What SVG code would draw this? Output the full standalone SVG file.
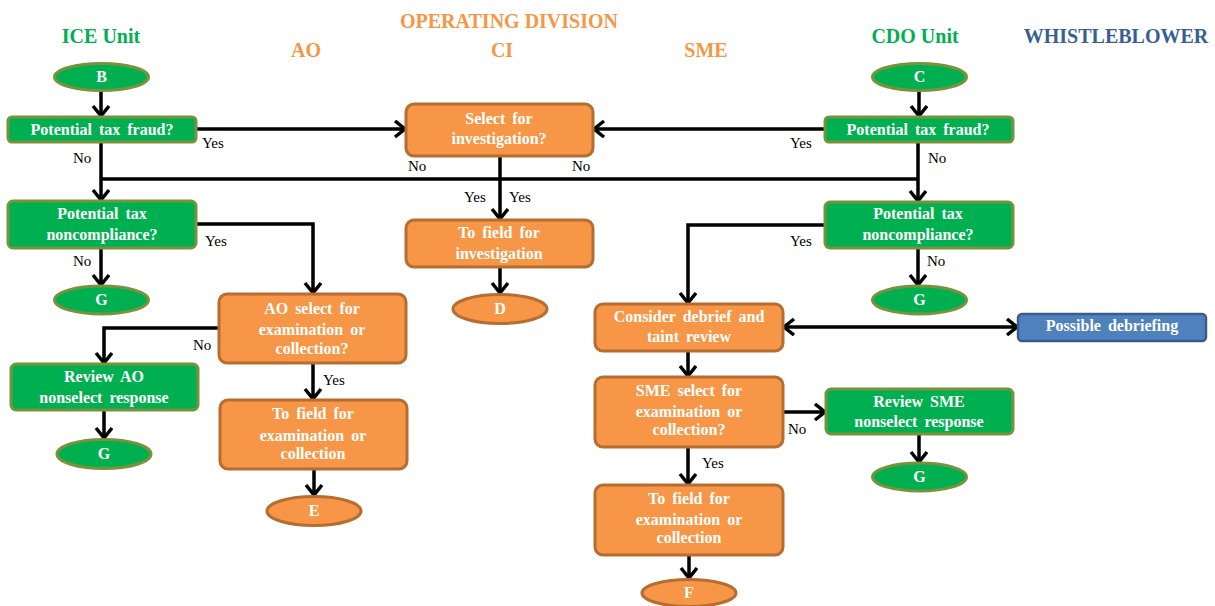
<svg xmlns="http://www.w3.org/2000/svg" width="1215" height="606" viewBox="0 0 1215 606">
<style>
text{font-family:'Liberation Serif','Times New Roman',serif}
.t{font-weight:bold;font-size:20px;text-anchor:middle}
.g{fill:#00B050;stroke:#77933C;stroke-width:3}
.o{fill:#F79646;stroke:#B66D31;stroke-width:3}
.b{fill:#4F81BD;stroke:#385D8A;stroke-width:2.5}
.w{font-weight:bold;font-size:16px;fill:#fff;text-anchor:middle;word-spacing:3px}
.l{font-size:15px;fill:#000}
.c{fill:none;stroke:#000;stroke-width:3.5}
.a{marker-end:url(#ah)}
</style>
<defs>
<marker id="ah" markerUnits="userSpaceOnUse" markerWidth="20" markerHeight="20" refX="13" refY="9" orient="auto-start-reverse">
<path d="M2,1 L12,9 L2,17" fill="none" stroke="#000" stroke-width="3.5" stroke-linejoin="miter"/>
</marker>
</defs>
<rect width="1215" height="606" fill="#fff"/>
<g id="titles">
<text class="t" x="101" y="43" fill="#00B050">ICE Unit</text>
<text class="t" x="509" y="28" fill="#F79646">OPERATING DIVISION</text>
<text class="t" x="306" y="57" fill="#F79646">AO</text>
<text class="t" x="502" y="57" fill="#F79646">CI</text>
<text class="t" x="706" y="57" fill="#F79646">SME</text>
<text class="t" x="915" y="43" fill="#00B050">CDO Unit</text>
<text class="t" x="1116" y="43" fill="#376092">WHISTLEBLOWER</text>
</g>
<g id="connectors">
<path class="c a" d="M101,91 V117"/>
<path class="c a" d="M196,129 H406"/>
<path class="c a" d="M101,142 V201"/>
<path class="c" d="M101,179 H918"/>
<path class="c a" d="M918,142 V202"/>
<path class="c a" d="M919,91 V117"/>
<path class="c a" d="M825,129 H593"/>
<path class="c a" d="M500,156 V220"/>
<path class="c a" d="M500,267 V294"/>
<path class="c a" d="M196,224 H313 V294"/>
<path class="c a" d="M101,248 V286"/>
<path class="c a" d="M219,328 H104 V364"/>
<path class="c a" d="M313,363 V400"/>
<path class="c a" d="M104,410 V439"/>
<path class="c a" d="M314,469 V496"/>
<path class="c a" d="M825,225 H688 V304"/>
<path class="c a" d="M918,248 V286"/>
<path class="c a" d="M783,327 H1018" marker-start="url(#ah)"/>
<path class="c a" d="M688,351 V377"/>
<path class="c a" d="M783,412 H826"/>
<path class="c a" d="M688,447 V485"/>
<path class="c a" d="M919,434 V463"/>
<path class="c a" d="M689,555 V579"/>
</g>
<g id="labels">
<text class="l" x="202" y="148">Yes</text>
<text class="l" x="73" y="163">No</text>
<text class="l" x="205" y="246">Yes</text>
<text class="l" x="73" y="266">No</text>
<text class="l" x="408" y="171">No</text>
<text class="l" x="572" y="171">No</text>
<text class="l" x="464" y="202">Yes</text>
<text class="l" x="509" y="202">Yes</text>
<text class="l" x="790" y="148">Yes</text>
<text class="l" x="790" y="246">Yes</text>
<text class="l" x="928" y="163">No</text>
<text class="l" x="927" y="266">No</text>
<text class="l" x="193" y="350">No</text>
<text class="l" x="323" y="385">Yes</text>
<text class="l" x="788" y="434">No</text>
<text class="l" x="702" y="468">Yes</text>
</g>
<g id="n-B"><ellipse class="g" cx="101.5" cy="77" rx="47" ry="13.5"/><text class="w" x="101.5" y="82">B</text></g>
<g id="n-ice-fraud"><rect class="g" x="8" y="117" width="188" height="25" rx="4"/><text class="w" x="102" y="135">Potential tax fraud?</text></g>
<g id="n-ice-nc"><rect class="g" x="8" y="201" width="188" height="47" rx="5"/><text class="w" x="102" y="219">Potential tax</text><text class="w" x="102" y="240">noncompliance?</text></g>
<g id="n-ice-G1"><ellipse class="g" cx="101.5" cy="300" rx="47" ry="14"/><text class="w" x="101.5" y="305">G</text></g>
<g id="n-review-ao"><rect class="g" x="11" y="364" width="187" height="46" rx="5"/><text class="w" x="104" y="382">Review AO</text><text class="w" x="104" y="403">nonselect response</text></g>
<g id="n-ice-G2"><ellipse class="g" cx="104" cy="454" rx="47" ry="14.5"/><text class="w" x="104" y="459">G</text></g>
<g id="n-ao-select"><rect class="o" x="219" y="294" width="187" height="69" rx="8"/><text class="w" x="312" y="314">AO select for</text><text class="w" x="312" y="335">examination or</text><text class="w" x="312" y="354">collection?</text></g>
<g id="n-ao-field"><rect class="o" x="220" y="400" width="187" height="69" rx="8"/><text class="w" x="313" y="419">To field for</text><text class="w" x="313" y="441">examination or</text><text class="w" x="313" y="459">collection</text></g>
<g id="n-E"><ellipse class="o" cx="314" cy="511" rx="47" ry="14.5"/><text class="w" x="314" y="516">E</text></g>
<g id="n-ci-select"><rect class="o" x="406" y="104" width="187" height="52" rx="8"/><text class="w" x="499" y="124">Select for</text><text class="w" x="499" y="144">investigation?</text></g>
<g id="n-ci-field"><rect class="o" x="406" y="220" width="187" height="47" rx="8"/><text class="w" x="499" y="238">To field for</text><text class="w" x="499" y="259">investigation</text></g>
<g id="n-D"><ellipse class="o" cx="500" cy="309" rx="47" ry="14.5"/><text class="w" x="500" y="314">D</text></g>
<g id="n-consider"><rect class="o" x="595" y="304" width="188" height="47" rx="8"/><text class="w" x="689" y="322">Consider debrief and</text><text class="w" x="689" y="342">taint review</text></g>
<g id="n-sme-select"><rect class="o" x="595" y="377" width="188" height="70" rx="8"/><text class="w" x="689" y="396">SME select for</text><text class="w" x="689" y="417">examination or</text><text class="w" x="689" y="435">collection?</text></g>
<g id="n-sme-field"><rect class="o" x="595" y="485" width="188" height="70" rx="8"/><text class="w" x="689" y="504">To field for</text><text class="w" x="689" y="525">examination or</text><text class="w" x="689" y="543">collection</text></g>
<g id="n-F"><ellipse class="o" cx="689" cy="593" rx="47" ry="13.5"/><text class="w" x="689" y="598">F</text></g>
<g id="n-C"><ellipse class="g" cx="919.5" cy="77" rx="47" ry="13.5"/><text class="w" x="919.5" y="82">C</text></g>
<g id="n-cdo-fraud"><rect class="g" x="825" y="117" width="188" height="25" rx="4"/><text class="w" x="918" y="135">Potential tax fraud?</text></g>
<g id="n-cdo-nc"><rect class="g" x="825" y="202" width="188" height="46" rx="5"/><text class="w" x="918" y="219">Potential tax</text><text class="w" x="918" y="240">noncompliance?</text></g>
<g id="n-cdo-G1"><ellipse class="g" cx="919.5" cy="300" rx="47" ry="14"/><text class="w" x="919.5" y="305">G</text></g>
<g id="n-review-sme"><rect class="g" x="826" y="389" width="187" height="45" rx="5"/><text class="w" x="919" y="407">Review SME</text><text class="w" x="919" y="427">nonselect response</text></g>
<g id="n-cdo-G2"><ellipse class="g" cx="919.5" cy="477" rx="47" ry="14"/><text class="w" x="919.5" y="482">G</text></g>
<g id="n-debrief"><rect class="b" x="1018" y="314" width="188" height="27" rx="4"/><text class="w" x="1112" y="331">Possible debriefing</text></g>
</svg>
